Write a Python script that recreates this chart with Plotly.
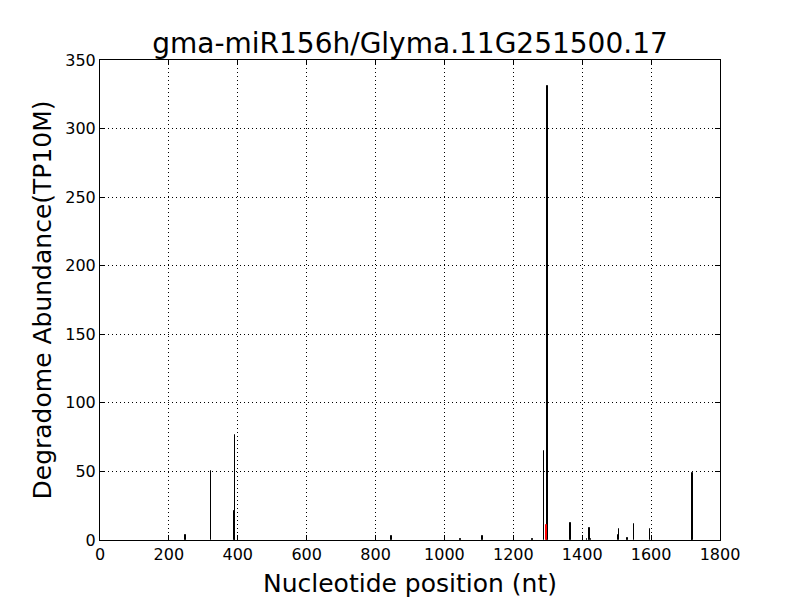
import plotly.graph_objects as go

title = "gma-miR156h/Glyma.11G251500.17"
positions = [248, 323, 390, 392, 846, 1047, 1110, 1256, 1289, 1299, 1366, 1413,
             1421, 1426, 1504, 1506, 1531, 1551, 1597, 1719, 1720]
abundance = [3.4, 50, 21.5, 76.5, 2.9, 1.0, 2.9, 0.5, 65, 331, 12.2, 0.8,
             8.5, 0.5, 4.0, 7.8, 1.5, 11.5, 8.0, 21, 48.5]
cleave_pos = [1297.5]
cleave_val = [11]

font = "DejaVu Sans, sans-serif"

fig = go.Figure()
fig.add_trace(go.Bar(x=positions, y=abundance, width=1,
                     marker=dict(color="black", line=dict(color="black", width=1)),
                     showlegend=False))
fig.add_trace(go.Bar(x=cleave_pos, y=cleave_val, width=3,
                     marker=dict(color="red", line=dict(color="red", width=1)),
                     showlegend=False))

axis_common = dict(
    showline=True, linecolor="black", linewidth=1, mirror="ticks",
    ticks="inside", ticklen=5, tickcolor="black", tickwidth=1,
    showgrid=True, gridcolor="black", gridwidth=1, griddash="1px,3px",
    zeroline=False, automargin=False,
    tickfont=dict(family=font, size=16, color="black"),
)

# page body has an 8px default margin, so the figure is offset by 8px
fig.update_layout(
    width=792, height=592,
    paper_bgcolor="white", plot_bgcolor="white",
    margin=dict(l=92, r=80, t=52, b=60, autoexpand=False),
    barmode="overlay", bargap=0,
    title=dict(text=title, x=0.5, xanchor="center", xref="paper",
               y=1 - 35 / 592, yanchor="middle", yref="container",
               font=dict(family=font, size=28, color="black")),
    xaxis=dict(range=[0, 1800], dtick=200, tick0=0,
               title=dict(text="Nucleotide position (nt)",
                          font=dict(family=font, size=25, color="black"),
                          standoff=11),
               **axis_common),
    yaxis=dict(range=[0, 350], dtick=50, tick0=0,
               title=dict(text="Degradome Abundance(TP10M)",
                          font=dict(family=font, size=25, color="black"),
                          standoff=6),
               **axis_common),
)

fig.write_html("out.html")
